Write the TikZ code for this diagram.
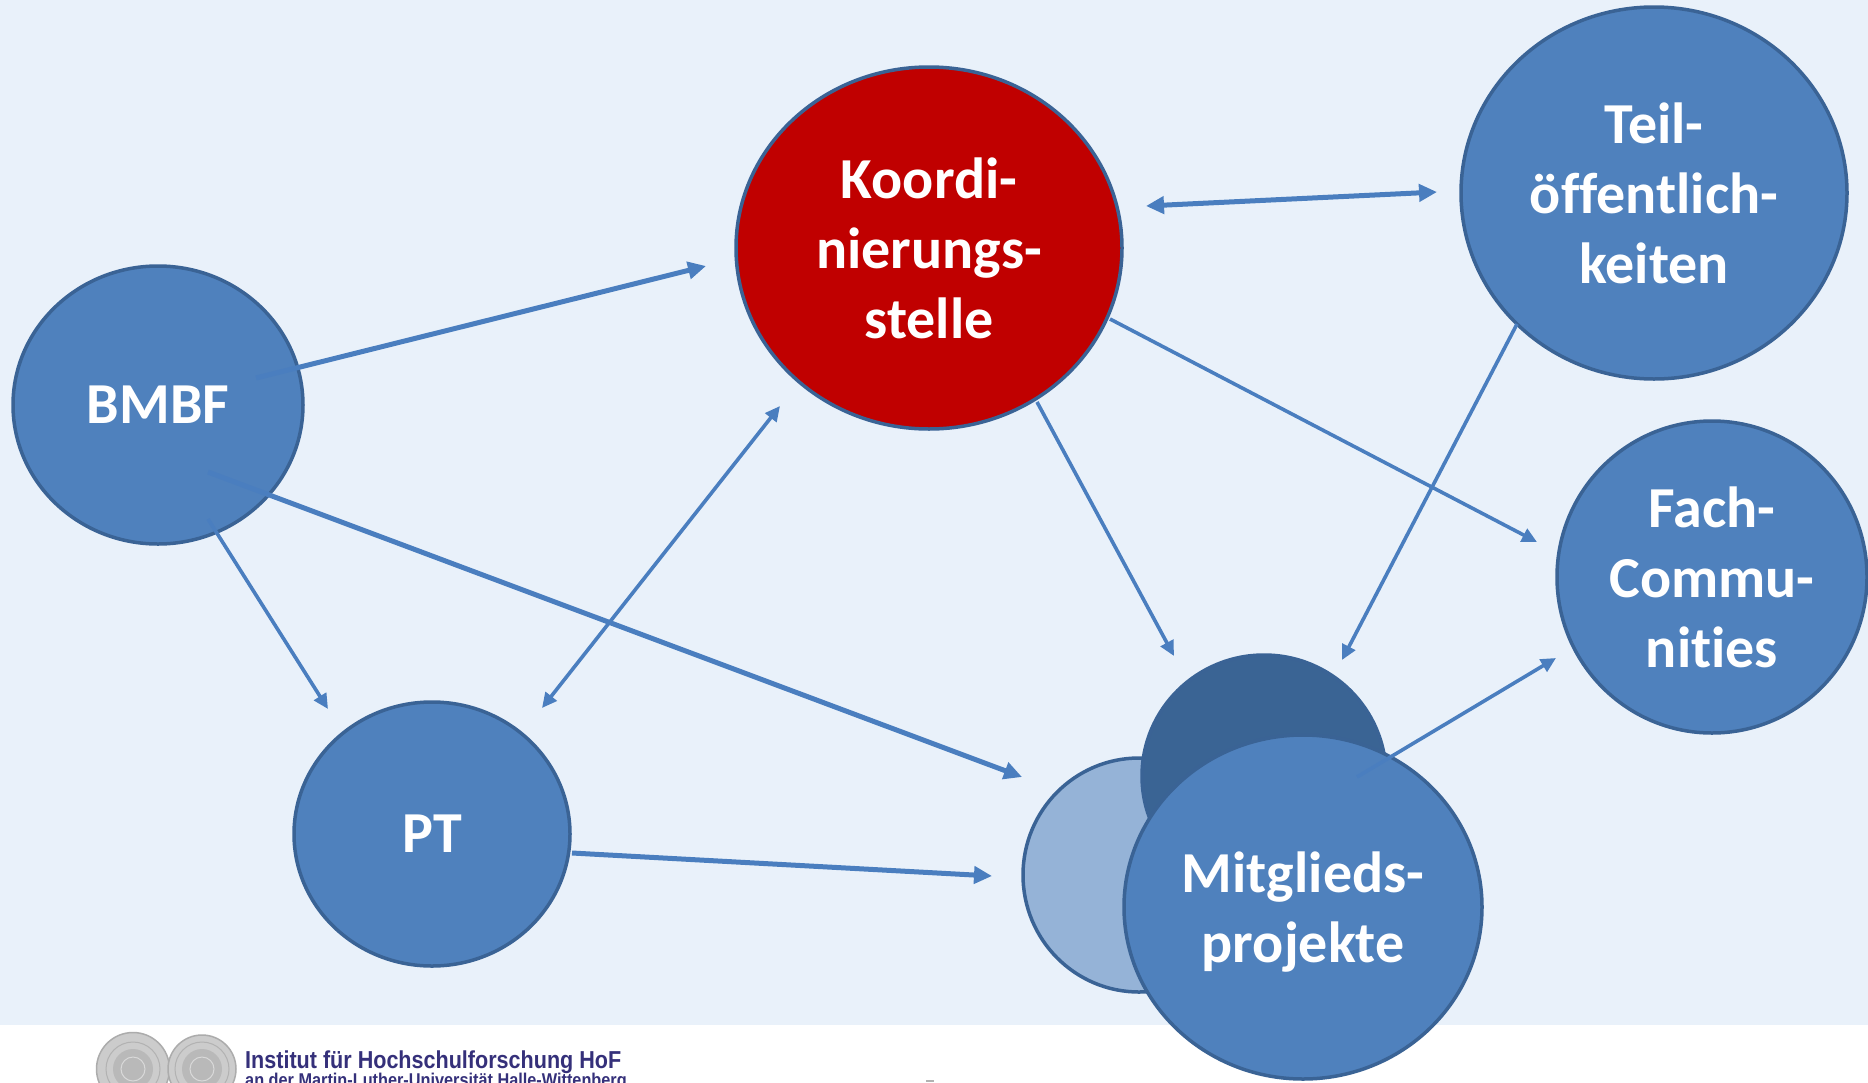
\documentclass[tikz,border=0pt]{standalone}
\usepackage{fontspec}
\setmainfont{Carlito}[Ligatures={NoCommon}]
\newfontfamily\hoffont[FakeStretch=0.88]{Liberation Sans}
\usetikzlibrary{arrows.meta,calc,shapes.geometric}
\definecolor{bg}{HTML}{E9F1FA}
\definecolor{nodefill}{HTML}{4F81BD}
\definecolor{nodeborder}{HTML}{3A6395}
\definecolor{kred}{HTML}{C00000}
\definecolor{lightfill}{HTML}{95B3D7}
\definecolor{darkfill}{HTML}{3A6494}
\definecolor{arrowcol}{HTML}{4A7EBF}
\definecolor{hoftext}{HTML}{35307A}
\begin{document}
\begin{tikzpicture}[x=1pt,y=-1pt,
  blob/.style={ellipse, draw=nodeborder, line width=3.5pt, fill=nodefill, inner sep=0pt,
    text=white, font=\fontsize{58}{70}\selectfont\bfseries, align=center},
  conn/.style={draw=arrowcol, line width=5pt, -{Triangle[length=18pt,width=17pt]}},
  thinconn/.style={draw=arrowcol, line width=3.6pt, -{Triangle[length=15pt,width=14pt]}},
  dconn/.style={draw=arrowcol, line width=5pt, {Triangle[length=18pt,width=17pt]}-{Triangle[length=18pt,width=17pt]}},
  dthinconn/.style={draw=arrowcol, line width=3.6pt, {Triangle[length=15pt,width=14pt]}-{Triangle[length=15pt,width=14pt]}},
  hofline/.style={anchor=base west, text=hoftext, inner sep=0pt},
  seal/.style={circle, fill=gray!40, draw=gray!65, line width=1.5pt, inner sep=0pt},
]
\useasboundingbox (0,0) rectangle (1868,1082);
\fill[bg] (0,0) rectangle (1868,1025);
\fill[white] (0,1025) rectangle (1868,1082);

% footer
\node[seal, minimum size=73pt] (seal1) at (133,1069) {};
\node[seal, minimum size=68pt] (seal2) at (202,1069) {};
\foreach \s in {seal1,seal2}{
  \draw[gray!60, line width=1pt] (\s) circle (27pt);
  \fill[gray!55] (\s) circle (20pt);
  \draw[gray!30, line width=1pt] (\s) circle (12pt);
}
\node[hofline, font=\hoffont\bfseries\fontsize{24.5}{28}\selectfont] (hof1) at (245,1068) {Institut für Hochschulforschung HoF};
\node[hofline, font=\hoffont\bfseries\fontsize{18.5}{22}\selectfont] (hof2) at (245,1086) {an der Martin-Luther-Universität Halle-Wittenberg};
\fill[gray!60] (926,1080) rectangle (934,1082);

% nodes
\node[blob, minimum width=290pt, minimum height=278pt] (bmbf) at (158,405) {BMBF};
\node[blob, fill=kred, minimum width=386pt, minimum height=362pt] (koord) at (929,248) {Koordi-\\nierungs-\\stelle};
\node[blob, minimum width=386pt, minimum height=372pt] (teil) at (1654,193) {Teil-\\öffentlich-\\keiten};
\node[blob, minimum width=310pt, minimum height=312pt] (fach) at (1712,577) {Fach-\\Commu-\\nities};
\node[blob, minimum width=276pt, minimum height=264pt] (pt) at (432,834) {PT};
\node[blob, fill=lightfill, minimum width=232pt, minimum height=234pt] (mlight) at (1139,875) {};
\node[blob, fill=darkfill, minimum width=244pt, minimum height=242pt] (mdark) at (1264,776) {};
\node[blob, text depth=0pt, minimum width=358pt, minimum height=344pt] (mit) at (1303,907) {Mitglieds-\\projekte};

% connectors
\draw[conn] ($(bmbf)+(98,-27)$) -- ($(koord)+(-223,18)$);
\draw[conn] ($(bmbf)+(50,67)$) -- ($(mlight)+(-117,-98)$);
\draw[thinconn] ($(bmbf)+(50,114)$) -- ($(pt)+(-104,-125)$);
\draw[dthinconn] ($(pt)+(110,-126)$) -- ($(koord)+(-149,158)$);
\draw[conn] ($(pt)+(140,19)$) -- ($(mlight)+(-147,1)$);
\draw[thinconn] ($(koord)+(108,154)$) -- ($(mdark)+(-90,-120)$);
\draw[thinconn] ($(koord)+(181,71)$) -- ($(fach)+(-175,-35)$);
\draw[thinconn] ($(teil)+(-137,131)$) -- ($(mdark)+(78,-116)$);
\draw[dconn] ($(koord)+(217,-42)$) -- ($(teil)+(-217,-1)$);
\draw[thinconn] ($(mit)+(54,-130)$) -- ($(fach)+(-156,81)$);
\end{tikzpicture}
\end{document}
